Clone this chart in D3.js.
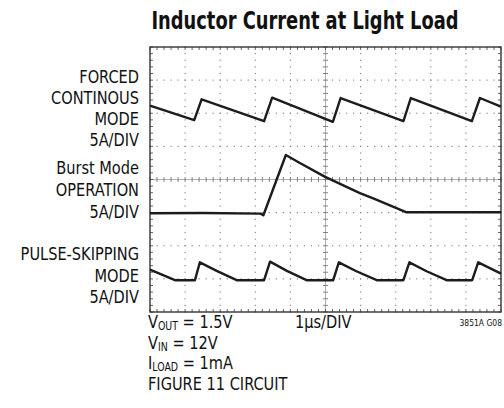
<!DOCTYPE html>
<html>
<head>
<meta charset="utf-8">
<script src="https://cdn.jsdelivr.net/npm/d3@7"></script>
<style>
  body { margin: 0; background: #fff; }
  svg { display: block; }
  text { font-family: "DejaVu Sans Condensed", "Liberation Sans Narrow", "Roboto", sans-serif; fill: #111; }
</style>
</head>
<body>
<svg id="scope" width="504" height="408"></svg>
<script>
// time axis in us (1us/DIV), vertical axis in divisions from the top of the screen
var xDivs = 10;
var yDivs = 8;

// FORCED CONTINOUS MODE trace: [t, div]
var forcedTrace = [
  [0, 1.77], [1.26, 2.21], [1.47, 1.58], [3.25, 2.24], [3.48, 1.53],
  [5.21, 2.26], [5.43, 1.54], [7.22, 2.24], [7.43, 1.54], [9.17, 2.24],
  [9.40, 1.54], [10, 1.80]
];

// Burst Mode OPERATION trace
var burstTrace = [
  [0, 5.02], [1.5, 5.01], [3.15, 5.03], [3.23, 5.08], [3.87, 3.26],
  [4.27, 3.50], [4.99, 3.92], [5.98, 4.41], [6.36, 4.57], [7.31, 4.99],
  [8.5, 4.99], [10, 4.99]
];

// PULSE-SKIPPING MODE trace
var pulseTrace = [
  [0, 6.72], [0.71, 7.04], [1.28, 7.04], [1.42, 6.50], [1.90, 6.76],
  [2.47, 7.04], [3.25, 7.04], [3.42, 6.48], [3.90, 6.76], [4.46, 7.04],
  [5.22, 7.04], [5.38, 6.50], [5.88, 6.77], [6.46, 7.04], [7.22, 7.04],
  [7.39, 6.50], [7.88, 6.77], [8.45, 7.04], [9.18, 7.04], [9.35, 6.50],
  [10, 6.84]
];

var leftLabels = [
  "FORCED", "CONTINOUS", "MODE", "5A/DIV",
  "Burst Mode", "OPERATION", "5A/DIV",
  "PULSE-SKIPPING", "MODE", "5A/DIV"
];
var leftLabelY = [82.7, 103.5, 125, 145.5, 173.5, 196, 217.7, 260, 281.7, 302.7];

var conditions = [
  ["V", "OUT", " = 1.5V"],
  ["V", "IN", " = 12V"],
  ["I", "LOAD", " = 1mA"],
  ["FIGURE 11 CIRCUIT", "", ""]
];

(function () {
  var svg = d3.select("#scope");
  var left = 150, right = 501, top = 47, bottom = 312;
  var narrow = 0.89; // squeeze to look like a condensed face

  var x = d3.scaleLinear().domain([0, xDivs]).range([left, right]);
  var y = d3.scaleLinear().domain([0, yDivs]).range([top, bottom]);

  function place(px, py, sx) {
    return "translate(" + px + "," + py + ") scale(" + (sx || narrow) + ",1)";
  }

  // title
  svg.append("text")
    .attr("transform", place(305, 28.5, 0.81))
    .attr("text-anchor", "middle")
    .style("font-size", "24.5px")
    .style("font-weight", "bold")
    .text("Inductor Current at Light Load");

  var grid = svg.append("g");
  var minor = d3.range(0, xDivs + 0.001, 0.2);
  var minorY = d3.range(0, yDivs + 0.001, 0.2);

  // dotted graticule
  d3.range(1, xDivs).filter(function (d) { return d !== 5; }).forEach(function (gx) {
    grid.selectAll(null)
      .data(minorY)
      .enter()
      .append("rect")
      .attr("x", x(gx) - 0.6)
      .attr("y", function (d) { return y(d) - 0.6; })
      .attr("width", 1.2)
      .attr("height", 1.2)
      .attr("fill", "#8a8a8a");
  });
  d3.range(1, yDivs).filter(function (d) { return d !== 4; }).forEach(function (gy) {
    grid.selectAll(null)
      .data(minor)
      .enter()
      .append("rect")
      .attr("x", function (d) { return x(d) - 0.6; })
      .attr("y", y(gy) - 0.6)
      .attr("width", 1.2)
      .attr("height", 1.2)
      .attr("fill", "#8a8a8a");
  });

  // center axes with minor ticks
  grid.append("line")
    .attr("x1", x(0)).attr("x2", x(xDivs))
    .attr("y1", y(4)).attr("y2", y(4))
    .attr("stroke", "#9a9a9a").attr("stroke-width", 0.8);
  grid.append("line")
    .attr("x1", x(5)).attr("x2", x(5))
    .attr("y1", y(0)).attr("y2", y(yDivs))
    .attr("stroke", "#9a9a9a").attr("stroke-width", 0.8);
  grid.selectAll(".tx")
    .data(minor)
    .enter()
    .append("line")
    .attr("x1", function (d) { return x(d); })
    .attr("x2", function (d) { return x(d); })
    .attr("y1", y(4) - 2.5)
    .attr("y2", y(4) + 2.5)
    .attr("stroke", "#777").attr("stroke-width", 0.9);
  grid.selectAll(".ty")
    .data(minorY)
    .enter()
    .append("line")
    .attr("x1", x(5) - 2.5)
    .attr("x2", x(5) + 2.5)
    .attr("y1", function (d) { return y(d); })
    .attr("y2", function (d) { return y(d); })
    .attr("stroke", "#777").attr("stroke-width", 0.9);

  // border ticks, pointing inward
  grid.selectAll(".bt")
    .data(minor)
    .enter()
    .append("path")
    .attr("d", function (d) {
      return "M" + x(d) + "," + y(0) + "v3M" + x(d) + "," + y(yDivs) + "v-3";
    })
    .attr("stroke", "#555").attr("stroke-width", 0.9);
  grid.selectAll(".bl")
    .data(minorY)
    .enter()
    .append("path")
    .attr("d", function (d) {
      return "M" + x(0) + "," + y(d) + "h3M" + x(xDivs) + "," + y(d) + "h-3";
    })
    .attr("stroke", "#555").attr("stroke-width", 0.9);

  grid.append("rect")
    .attr("x", left).attr("y", top)
    .attr("width", right - left).attr("height", bottom - top)
    .attr("fill", "none")
    .attr("stroke", "#333")
    .attr("stroke-width", 1.4);

  // traces
  var line = d3.line()
    .x(function (d) { return x(d[0]); })
    .y(function (d) { return y(d[1]); });

  [forcedTrace, burstTrace, pulseTrace].forEach(function (trace) {
    svg.append("path")
      .datum(trace)
      .attr("d", line)
      .attr("fill", "none")
      .attr("stroke", "#1c1c1c")
      .attr("stroke-width", 2.4)
      .attr("stroke-linejoin", "round");
  });

  // channel labels
  svg.selectAll(".lbl")
    .data(leftLabels)
    .enter()
    .append("text")
    .attr("transform", function (d, i) { return place(139, leftLabelY[i]); })
    .attr("text-anchor", "end")
    .style("font-size", "18.2px")
    .text(function (d) { return d; });

  // conditions block
  conditions.forEach(function (c, i) {
    var t = svg.append("text")
      .attr("transform", place(148, 328.3 + i * 20.4, 0.91))
      .style("font-size", "17.8px");
    t.append("tspan").text(c[0]);
    if (c[1]) {
      t.append("tspan")
        .attr("dy", 2)
        .style("font-size", "11.5px")
        .text(c[1]);
      t.append("tspan")
        .attr("dy", -2)
        .text(c[2]);
    }
  });

  svg.append("text")
    .attr("transform", place(295, 328.3))
    .style("font-size", "18.2px")
    .text("1\u00b5s/DIV");

  svg.append("text")
    .attr("transform", place(502, 326))
    .attr("text-anchor", "end")
    .style("font-size", "9.5px")
    .text("3851A G08");
})();
</script>
</body>
</html>
